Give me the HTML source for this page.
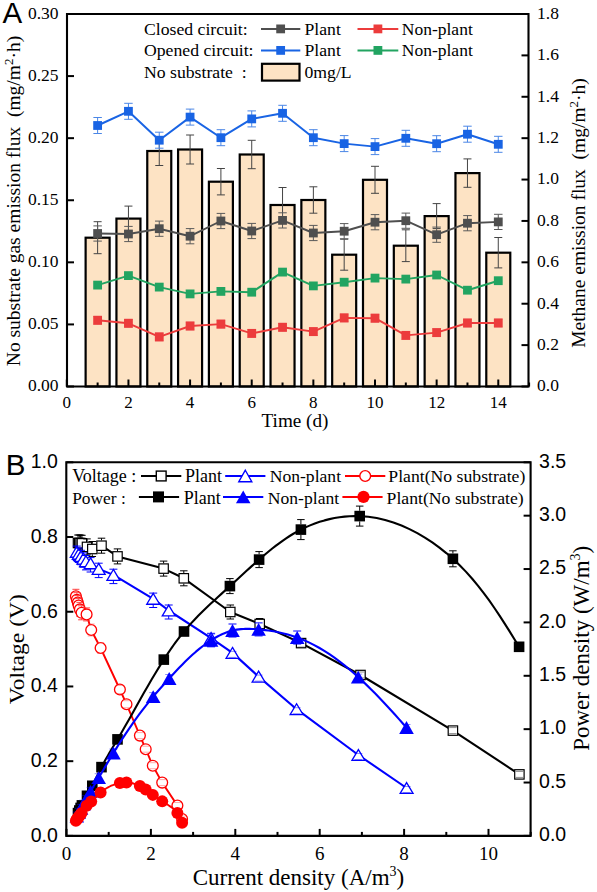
<!DOCTYPE html>
<html><head><meta charset="utf-8"><style>
html,body{margin:0;padding:0;background:#fff;width:597px;height:892px;overflow:hidden}
svg{display:block}
.S{font-family:"Liberation Serif", serif}
.A{font-family:"Liberation Sans", sans-serif}
</style></head><body>
<svg width="597" height="892" viewBox="0 0 597 892">
<rect x="0" y="0" width="597" height="892" fill="#fff"/>
<rect x="85.62" y="237.70" width="24.00" height="148.80" fill="#fde3c4" stroke="#000" stroke-width="2.2"/>
<rect x="116.44" y="218.60" width="24.00" height="167.90" fill="#fde3c4" stroke="#000" stroke-width="2.2"/>
<rect x="147.26" y="151.00" width="24.00" height="235.50" fill="#fde3c4" stroke="#000" stroke-width="2.2"/>
<rect x="178.08" y="149.50" width="24.00" height="237.00" fill="#fde3c4" stroke="#000" stroke-width="2.2"/>
<rect x="208.90" y="181.70" width="24.00" height="204.80" fill="#fde3c4" stroke="#000" stroke-width="2.2"/>
<rect x="239.72" y="154.50" width="24.00" height="232.00" fill="#fde3c4" stroke="#000" stroke-width="2.2"/>
<rect x="270.54" y="205.00" width="24.00" height="181.50" fill="#fde3c4" stroke="#000" stroke-width="2.2"/>
<rect x="301.36" y="200.00" width="24.00" height="186.50" fill="#fde3c4" stroke="#000" stroke-width="2.2"/>
<rect x="332.18" y="254.70" width="24.00" height="131.80" fill="#fde3c4" stroke="#000" stroke-width="2.2"/>
<rect x="363.00" y="179.80" width="24.00" height="206.70" fill="#fde3c4" stroke="#000" stroke-width="2.2"/>
<rect x="393.82" y="245.70" width="24.00" height="140.80" fill="#fde3c4" stroke="#000" stroke-width="2.2"/>
<rect x="424.64" y="216.10" width="24.00" height="170.40" fill="#fde3c4" stroke="#000" stroke-width="2.2"/>
<rect x="455.46" y="173.10" width="24.00" height="213.40" fill="#fde3c4" stroke="#000" stroke-width="2.2"/>
<rect x="486.28" y="252.70" width="24.00" height="133.80" fill="#fde3c4" stroke="#000" stroke-width="2.2"/>
<path d="M97.62,221.70V253.70M93.62,221.70h8.00M93.62,253.70h8.00" stroke="#444" stroke-width="1.0" fill="none"/>
<path d="M128.44,206.10V231.10M124.44,206.10h8.00M124.44,231.10h8.00" stroke="#444" stroke-width="1.0" fill="none"/>
<path d="M159.26,136.50V165.50M155.26,136.50h8.00M155.26,165.50h8.00" stroke="#444" stroke-width="1.0" fill="none"/>
<path d="M190.08,135.00V164.00M186.08,135.00h8.00M186.08,164.00h8.00" stroke="#444" stroke-width="1.0" fill="none"/>
<path d="M220.90,168.50V194.90M216.90,168.50h8.00M216.90,194.90h8.00" stroke="#444" stroke-width="1.0" fill="none"/>
<path d="M251.72,140.30V168.70M247.72,140.30h8.00M247.72,168.70h8.00" stroke="#444" stroke-width="1.0" fill="none"/>
<path d="M282.54,187.50V222.50M278.54,187.50h8.00M278.54,222.50h8.00" stroke="#444" stroke-width="1.0" fill="none"/>
<path d="M313.36,186.80V213.20M309.36,186.80h8.00M309.36,213.20h8.00" stroke="#444" stroke-width="1.0" fill="none"/>
<path d="M344.18,239.20V270.20M340.18,239.20h8.00M340.18,270.20h8.00" stroke="#444" stroke-width="1.0" fill="none"/>
<path d="M375.00,166.30V193.30M371.00,166.30h8.00M371.00,193.30h8.00" stroke="#444" stroke-width="1.0" fill="none"/>
<path d="M405.82,229.80V261.60M401.82,229.80h8.00M401.82,261.60h8.00" stroke="#444" stroke-width="1.0" fill="none"/>
<path d="M436.64,203.60V228.60M432.64,203.60h8.00M432.64,228.60h8.00" stroke="#444" stroke-width="1.0" fill="none"/>
<path d="M467.46,158.90V187.30M463.46,158.90h8.00M463.46,187.30h8.00" stroke="#444" stroke-width="1.0" fill="none"/>
<path d="M498.28,237.50V267.90M494.28,237.50h8.00M494.28,267.90h8.00" stroke="#444" stroke-width="1.0" fill="none"/>
<polyline points="97.62,320.30 128.44,323.30 159.26,336.90 190.08,326.00 220.90,324.10 251.72,333.40 282.54,327.30 313.36,331.60 344.18,317.90 375.00,318.20 405.82,335.40 436.64,332.60 467.46,323.00 498.28,323.00" fill="none" stroke="#ec3c3c" stroke-width="1.95" stroke-linejoin="round"/>
<path d="M97.62,316.30V324.30M93.37,316.30h8.50M93.37,324.30h8.50" stroke="#f07a7a" stroke-width="1.0" fill="none"/>
<path d="M128.44,319.30V327.30M124.19,319.30h8.50M124.19,327.30h8.50" stroke="#f07a7a" stroke-width="1.0" fill="none"/>
<path d="M159.26,332.90V340.90M155.01,332.90h8.50M155.01,340.90h8.50" stroke="#f07a7a" stroke-width="1.0" fill="none"/>
<path d="M190.08,322.00V330.00M185.83,322.00h8.50M185.83,330.00h8.50" stroke="#f07a7a" stroke-width="1.0" fill="none"/>
<path d="M220.90,320.10V328.10M216.65,320.10h8.50M216.65,328.10h8.50" stroke="#f07a7a" stroke-width="1.0" fill="none"/>
<path d="M251.72,329.40V337.40M247.47,329.40h8.50M247.47,337.40h8.50" stroke="#f07a7a" stroke-width="1.0" fill="none"/>
<path d="M282.54,323.30V331.30M278.29,323.30h8.50M278.29,331.30h8.50" stroke="#f07a7a" stroke-width="1.0" fill="none"/>
<path d="M313.36,327.60V335.60M309.11,327.60h8.50M309.11,335.60h8.50" stroke="#f07a7a" stroke-width="1.0" fill="none"/>
<path d="M344.18,313.90V321.90M339.93,313.90h8.50M339.93,321.90h8.50" stroke="#f07a7a" stroke-width="1.0" fill="none"/>
<path d="M375.00,314.20V322.20M370.75,314.20h8.50M370.75,322.20h8.50" stroke="#f07a7a" stroke-width="1.0" fill="none"/>
<path d="M405.82,331.40V339.40M401.57,331.40h8.50M401.57,339.40h8.50" stroke="#f07a7a" stroke-width="1.0" fill="none"/>
<path d="M436.64,328.60V336.60M432.39,328.60h8.50M432.39,336.60h8.50" stroke="#f07a7a" stroke-width="1.0" fill="none"/>
<path d="M467.46,319.00V327.00M463.21,319.00h8.50M463.21,327.00h8.50" stroke="#f07a7a" stroke-width="1.0" fill="none"/>
<path d="M498.28,319.00V327.00M494.03,319.00h8.50M494.03,327.00h8.50" stroke="#f07a7a" stroke-width="1.0" fill="none"/>
<rect x="93.22" y="315.90" width="8.80" height="8.80" fill="#ec3c3c"/>
<rect x="124.04" y="318.90" width="8.80" height="8.80" fill="#ec3c3c"/>
<rect x="154.86" y="332.50" width="8.80" height="8.80" fill="#ec3c3c"/>
<rect x="185.68" y="321.60" width="8.80" height="8.80" fill="#ec3c3c"/>
<rect x="216.50" y="319.70" width="8.80" height="8.80" fill="#ec3c3c"/>
<rect x="247.32" y="329.00" width="8.80" height="8.80" fill="#ec3c3c"/>
<rect x="278.14" y="322.90" width="8.80" height="8.80" fill="#ec3c3c"/>
<rect x="308.96" y="327.20" width="8.80" height="8.80" fill="#ec3c3c"/>
<rect x="339.78" y="313.50" width="8.80" height="8.80" fill="#ec3c3c"/>
<rect x="370.60" y="313.80" width="8.80" height="8.80" fill="#ec3c3c"/>
<rect x="401.42" y="331.00" width="8.80" height="8.80" fill="#ec3c3c"/>
<rect x="432.24" y="328.20" width="8.80" height="8.80" fill="#ec3c3c"/>
<rect x="463.06" y="318.60" width="8.80" height="8.80" fill="#ec3c3c"/>
<rect x="493.88" y="318.60" width="8.80" height="8.80" fill="#ec3c3c"/>
<polyline points="97.62,285.10 128.44,275.60 159.26,287.10 190.08,293.90 220.90,291.40 251.72,292.20 282.54,272.10 313.36,285.90 344.18,282.20 375.00,278.10 405.82,279.10 436.64,275.00 467.46,290.20 498.28,280.70" fill="none" stroke="#22a461" stroke-width="1.95" stroke-linejoin="round"/>
<rect x="93.22" y="280.70" width="8.80" height="8.80" fill="#22a461"/>
<rect x="124.04" y="271.20" width="8.80" height="8.80" fill="#22a461"/>
<rect x="154.86" y="282.70" width="8.80" height="8.80" fill="#22a461"/>
<rect x="185.68" y="289.50" width="8.80" height="8.80" fill="#22a461"/>
<rect x="216.50" y="287.00" width="8.80" height="8.80" fill="#22a461"/>
<rect x="247.32" y="287.80" width="8.80" height="8.80" fill="#22a461"/>
<rect x="278.14" y="267.70" width="8.80" height="8.80" fill="#22a461"/>
<rect x="308.96" y="281.50" width="8.80" height="8.80" fill="#22a461"/>
<rect x="339.78" y="277.80" width="8.80" height="8.80" fill="#22a461"/>
<rect x="370.60" y="273.70" width="8.80" height="8.80" fill="#22a461"/>
<rect x="401.42" y="274.70" width="8.80" height="8.80" fill="#22a461"/>
<rect x="432.24" y="270.60" width="8.80" height="8.80" fill="#22a461"/>
<rect x="463.06" y="285.80" width="8.80" height="8.80" fill="#22a461"/>
<rect x="493.88" y="276.30" width="8.80" height="8.80" fill="#22a461"/>
<polyline points="97.62,233.50 128.44,234.00 159.26,228.70 190.08,236.20 220.90,221.00 251.72,231.00 282.54,220.40 313.36,233.00 344.18,231.20 375.00,222.20 405.82,220.70 436.64,234.70 467.46,223.20 498.28,221.90" fill="none" stroke="#4f4f4f" stroke-width="1.95" stroke-linejoin="round"/>
<path d="M97.62,225.90V241.10M93.37,225.90h8.50M93.37,241.10h8.50" stroke="#5a5a5a" stroke-width="1.0" fill="none"/>
<path d="M128.44,226.40V241.60M124.19,226.40h8.50M124.19,241.60h8.50" stroke="#5a5a5a" stroke-width="1.0" fill="none"/>
<path d="M159.26,221.10V236.30M155.01,221.10h8.50M155.01,236.30h8.50" stroke="#5a5a5a" stroke-width="1.0" fill="none"/>
<path d="M190.08,228.60V243.80M185.83,228.60h8.50M185.83,243.80h8.50" stroke="#5a5a5a" stroke-width="1.0" fill="none"/>
<path d="M220.90,213.40V228.60M216.65,213.40h8.50M216.65,228.60h8.50" stroke="#5a5a5a" stroke-width="1.0" fill="none"/>
<path d="M251.72,223.40V238.60M247.47,223.40h8.50M247.47,238.60h8.50" stroke="#5a5a5a" stroke-width="1.0" fill="none"/>
<path d="M282.54,212.80V228.00M278.29,212.80h8.50M278.29,228.00h8.50" stroke="#5a5a5a" stroke-width="1.0" fill="none"/>
<path d="M313.36,225.40V240.60M309.11,225.40h8.50M309.11,240.60h8.50" stroke="#5a5a5a" stroke-width="1.0" fill="none"/>
<path d="M344.18,223.60V238.80M339.93,223.60h8.50M339.93,238.80h8.50" stroke="#5a5a5a" stroke-width="1.0" fill="none"/>
<path d="M375.00,214.60V229.80M370.75,214.60h8.50M370.75,229.80h8.50" stroke="#5a5a5a" stroke-width="1.0" fill="none"/>
<path d="M405.82,213.10V228.30M401.57,213.10h8.50M401.57,228.30h8.50" stroke="#5a5a5a" stroke-width="1.0" fill="none"/>
<path d="M436.64,227.10V242.30M432.39,227.10h8.50M432.39,242.30h8.50" stroke="#5a5a5a" stroke-width="1.0" fill="none"/>
<path d="M467.46,215.60V230.80M463.21,215.60h8.50M463.21,230.80h8.50" stroke="#5a5a5a" stroke-width="1.0" fill="none"/>
<path d="M498.28,214.30V229.50M494.03,214.30h8.50M494.03,229.50h8.50" stroke="#5a5a5a" stroke-width="1.0" fill="none"/>
<rect x="93.22" y="229.10" width="8.80" height="8.80" fill="#4f4f4f"/>
<rect x="124.04" y="229.60" width="8.80" height="8.80" fill="#4f4f4f"/>
<rect x="154.86" y="224.30" width="8.80" height="8.80" fill="#4f4f4f"/>
<rect x="185.68" y="231.80" width="8.80" height="8.80" fill="#4f4f4f"/>
<rect x="216.50" y="216.60" width="8.80" height="8.80" fill="#4f4f4f"/>
<rect x="247.32" y="226.60" width="8.80" height="8.80" fill="#4f4f4f"/>
<rect x="278.14" y="216.00" width="8.80" height="8.80" fill="#4f4f4f"/>
<rect x="308.96" y="228.60" width="8.80" height="8.80" fill="#4f4f4f"/>
<rect x="339.78" y="226.80" width="8.80" height="8.80" fill="#4f4f4f"/>
<rect x="370.60" y="217.80" width="8.80" height="8.80" fill="#4f4f4f"/>
<rect x="401.42" y="216.30" width="8.80" height="8.80" fill="#4f4f4f"/>
<rect x="432.24" y="230.30" width="8.80" height="8.80" fill="#4f4f4f"/>
<rect x="463.06" y="218.80" width="8.80" height="8.80" fill="#4f4f4f"/>
<rect x="493.88" y="217.50" width="8.80" height="8.80" fill="#4f4f4f"/>
<polyline points="97.62,125.50 128.44,111.30 159.26,140.20 190.08,117.10 220.90,137.70 251.72,118.90 282.54,113.30 313.36,137.70 344.18,143.60 375.00,146.60 405.82,138.30 436.64,143.70 467.46,134.20 498.28,144.30" fill="none" stroke="#1964e4" stroke-width="1.95" stroke-linejoin="round"/>
<path d="M97.62,117.50V133.50M93.37,117.50h8.50M93.37,133.50h8.50" stroke="#4a86e6" stroke-width="1.0" fill="none"/>
<path d="M128.44,103.30V119.30M124.19,103.30h8.50M124.19,119.30h8.50" stroke="#4a86e6" stroke-width="1.0" fill="none"/>
<path d="M159.26,132.20V148.20M155.01,132.20h8.50M155.01,148.20h8.50" stroke="#4a86e6" stroke-width="1.0" fill="none"/>
<path d="M190.08,109.10V125.10M185.83,109.10h8.50M185.83,125.10h8.50" stroke="#4a86e6" stroke-width="1.0" fill="none"/>
<path d="M220.90,129.70V145.70M216.65,129.70h8.50M216.65,145.70h8.50" stroke="#4a86e6" stroke-width="1.0" fill="none"/>
<path d="M251.72,110.90V126.90M247.47,110.90h8.50M247.47,126.90h8.50" stroke="#4a86e6" stroke-width="1.0" fill="none"/>
<path d="M282.54,105.30V121.30M278.29,105.30h8.50M278.29,121.30h8.50" stroke="#4a86e6" stroke-width="1.0" fill="none"/>
<path d="M313.36,129.70V145.70M309.11,129.70h8.50M309.11,145.70h8.50" stroke="#4a86e6" stroke-width="1.0" fill="none"/>
<path d="M344.18,135.60V151.60M339.93,135.60h8.50M339.93,151.60h8.50" stroke="#4a86e6" stroke-width="1.0" fill="none"/>
<path d="M375.00,138.60V154.60M370.75,138.60h8.50M370.75,154.60h8.50" stroke="#4a86e6" stroke-width="1.0" fill="none"/>
<path d="M405.82,130.30V146.30M401.57,130.30h8.50M401.57,146.30h8.50" stroke="#4a86e6" stroke-width="1.0" fill="none"/>
<path d="M436.64,135.70V151.70M432.39,135.70h8.50M432.39,151.70h8.50" stroke="#4a86e6" stroke-width="1.0" fill="none"/>
<path d="M467.46,126.20V142.20M463.21,126.20h8.50M463.21,142.20h8.50" stroke="#4a86e6" stroke-width="1.0" fill="none"/>
<path d="M498.28,136.30V152.30M494.03,136.30h8.50M494.03,152.30h8.50" stroke="#4a86e6" stroke-width="1.0" fill="none"/>
<rect x="93.22" y="121.10" width="8.80" height="8.80" fill="#1964e4"/>
<rect x="124.04" y="106.90" width="8.80" height="8.80" fill="#1964e4"/>
<rect x="154.86" y="135.80" width="8.80" height="8.80" fill="#1964e4"/>
<rect x="185.68" y="112.70" width="8.80" height="8.80" fill="#1964e4"/>
<rect x="216.50" y="133.30" width="8.80" height="8.80" fill="#1964e4"/>
<rect x="247.32" y="114.50" width="8.80" height="8.80" fill="#1964e4"/>
<rect x="278.14" y="108.90" width="8.80" height="8.80" fill="#1964e4"/>
<rect x="308.96" y="133.30" width="8.80" height="8.80" fill="#1964e4"/>
<rect x="339.78" y="139.20" width="8.80" height="8.80" fill="#1964e4"/>
<rect x="370.60" y="142.20" width="8.80" height="8.80" fill="#1964e4"/>
<rect x="401.42" y="133.90" width="8.80" height="8.80" fill="#1964e4"/>
<rect x="432.24" y="139.30" width="8.80" height="8.80" fill="#1964e4"/>
<rect x="463.06" y="129.80" width="8.80" height="8.80" fill="#1964e4"/>
<rect x="493.88" y="139.90" width="8.80" height="8.80" fill="#1964e4"/>
<path d="M67.0,14.0 H528.5 V386.5 H67.0 Z" fill="none" stroke="#000" stroke-width="2.1"/>
<line x1="67.00" y1="386.50" x2="74.00" y2="386.50" stroke="#000" stroke-width="2"/>
<line x1="67.00" y1="324.42" x2="74.00" y2="324.42" stroke="#000" stroke-width="2"/>
<line x1="67.00" y1="262.33" x2="74.00" y2="262.33" stroke="#000" stroke-width="2"/>
<line x1="67.00" y1="200.25" x2="74.00" y2="200.25" stroke="#000" stroke-width="2"/>
<line x1="67.00" y1="138.17" x2="74.00" y2="138.17" stroke="#000" stroke-width="2"/>
<line x1="67.00" y1="76.08" x2="74.00" y2="76.08" stroke="#000" stroke-width="2"/>
<line x1="67.00" y1="14.00" x2="74.00" y2="14.00" stroke="#000" stroke-width="2"/>
<line x1="528.50" y1="386.50" x2="521.50" y2="386.50" stroke="#000" stroke-width="2"/>
<line x1="528.50" y1="345.11" x2="521.50" y2="345.11" stroke="#000" stroke-width="2"/>
<line x1="528.50" y1="303.72" x2="521.50" y2="303.72" stroke="#000" stroke-width="2"/>
<line x1="528.50" y1="262.33" x2="521.50" y2="262.33" stroke="#000" stroke-width="2"/>
<line x1="528.50" y1="220.94" x2="521.50" y2="220.94" stroke="#000" stroke-width="2"/>
<line x1="528.50" y1="179.56" x2="521.50" y2="179.56" stroke="#000" stroke-width="2"/>
<line x1="528.50" y1="138.17" x2="521.50" y2="138.17" stroke="#000" stroke-width="2"/>
<line x1="528.50" y1="96.78" x2="521.50" y2="96.78" stroke="#000" stroke-width="2"/>
<line x1="528.50" y1="55.39" x2="521.50" y2="55.39" stroke="#000" stroke-width="2"/>
<line x1="528.50" y1="14.00" x2="521.50" y2="14.00" stroke="#000" stroke-width="2"/>
<line x1="66.80" y1="386.50" x2="66.80" y2="379.50" stroke="#000" stroke-width="2"/>
<line x1="97.62" y1="386.50" x2="97.62" y2="382.50" stroke="#000" stroke-width="2"/>
<line x1="128.44" y1="386.50" x2="128.44" y2="379.50" stroke="#000" stroke-width="2"/>
<line x1="159.26" y1="386.50" x2="159.26" y2="382.50" stroke="#000" stroke-width="2"/>
<line x1="190.08" y1="386.50" x2="190.08" y2="379.50" stroke="#000" stroke-width="2"/>
<line x1="220.90" y1="386.50" x2="220.90" y2="382.50" stroke="#000" stroke-width="2"/>
<line x1="251.72" y1="386.50" x2="251.72" y2="379.50" stroke="#000" stroke-width="2"/>
<line x1="282.54" y1="386.50" x2="282.54" y2="382.50" stroke="#000" stroke-width="2"/>
<line x1="313.36" y1="386.50" x2="313.36" y2="379.50" stroke="#000" stroke-width="2"/>
<line x1="344.18" y1="386.50" x2="344.18" y2="382.50" stroke="#000" stroke-width="2"/>
<line x1="375.00" y1="386.50" x2="375.00" y2="379.50" stroke="#000" stroke-width="2"/>
<line x1="405.82" y1="386.50" x2="405.82" y2="382.50" stroke="#000" stroke-width="2"/>
<line x1="436.64" y1="386.50" x2="436.64" y2="379.50" stroke="#000" stroke-width="2"/>
<line x1="467.46" y1="386.50" x2="467.46" y2="382.50" stroke="#000" stroke-width="2"/>
<line x1="498.28" y1="386.50" x2="498.28" y2="379.50" stroke="#000" stroke-width="2"/>
<line x1="529.10" y1="386.50" x2="529.10" y2="382.50" stroke="#000" stroke-width="2"/>
<text class="S" x="58.50" y="391.30" font-size="17.5" text-anchor="end" fill="#000">0.00</text>
<text class="S" x="58.50" y="329.22" font-size="17.5" text-anchor="end" fill="#000">0.05</text>
<text class="S" x="58.50" y="267.13" font-size="17.5" text-anchor="end" fill="#000">0.10</text>
<text class="S" x="58.50" y="205.05" font-size="17.5" text-anchor="end" fill="#000">0.15</text>
<text class="S" x="58.50" y="142.97" font-size="17.5" text-anchor="end" fill="#000">0.20</text>
<text class="S" x="58.50" y="80.88" font-size="17.5" text-anchor="end" fill="#000">0.25</text>
<text class="S" x="58.50" y="18.80" font-size="17.5" text-anchor="end" fill="#000">0.30</text>
<text class="S" x="537.00" y="391.30" font-size="17.5" text-anchor="start" fill="#000">0.0</text>
<text class="S" x="537.00" y="349.91" font-size="17.5" text-anchor="start" fill="#000">0.2</text>
<text class="S" x="537.00" y="308.52" font-size="17.5" text-anchor="start" fill="#000">0.4</text>
<text class="S" x="537.00" y="267.13" font-size="17.5" text-anchor="start" fill="#000">0.6</text>
<text class="S" x="537.00" y="225.74" font-size="17.5" text-anchor="start" fill="#000">0.8</text>
<text class="S" x="537.00" y="184.36" font-size="17.5" text-anchor="start" fill="#000">1.0</text>
<text class="S" x="537.00" y="142.97" font-size="17.5" text-anchor="start" fill="#000">1.2</text>
<text class="S" x="537.00" y="101.58" font-size="17.5" text-anchor="start" fill="#000">1.4</text>
<text class="S" x="537.00" y="60.19" font-size="17.5" text-anchor="start" fill="#000">1.6</text>
<text class="S" x="537.00" y="18.80" font-size="17.5" text-anchor="start" fill="#000">1.8</text>
<text class="S" x="66.80" y="407.50" font-size="17" text-anchor="middle" fill="#000">0</text>
<text class="S" x="128.44" y="407.50" font-size="17" text-anchor="middle" fill="#000">2</text>
<text class="S" x="190.08" y="407.50" font-size="17" text-anchor="middle" fill="#000">4</text>
<text class="S" x="251.72" y="407.50" font-size="17" text-anchor="middle" fill="#000">6</text>
<text class="S" x="313.36" y="407.50" font-size="17" text-anchor="middle" fill="#000">8</text>
<text class="S" x="375.00" y="407.50" font-size="17" text-anchor="middle" fill="#000">10</text>
<text class="S" x="436.64" y="407.50" font-size="17" text-anchor="middle" fill="#000">12</text>
<text class="S" x="498.28" y="407.50" font-size="17" text-anchor="middle" fill="#000">14</text>
<text class="S" x="295.00" y="426.50" font-size="19.2" text-anchor="middle" fill="#000">Time (d)</text>
<text class="S" x="20.20" y="201.00" font-size="19.5" text-anchor="middle" fill="#000" transform="rotate(-90 20.20 201.00)">No substrate gas emission flux&#160;&#160;(mg/m<tspan dy="-7" font-size="13">2</tspan><tspan dy="7">&#183;h)</tspan></text>
<text class="S" x="584.60" y="213.00" font-size="19.5" text-anchor="middle" fill="#000" transform="rotate(-90 584.60 213.00)">Methane emission flux&#160;&#160;(mg/m<tspan dy="-7" font-size="13">2</tspan><tspan dy="7">&#183;h)</tspan></text>
<text class="A" x="2.50" y="23.30" font-size="29.5" text-anchor="start" fill="#000">A</text>
<text class="S" x="144.00" y="34.60" font-size="17.7" text-anchor="start" fill="#000">Closed circuit:</text>
<text class="S" x="144.00" y="56.40" font-size="17.7" text-anchor="start" fill="#000">Opened circuit:</text>
<text class="S" x="144.00" y="77.70" font-size="17.7" text-anchor="start" fill="#000">No substrate&#160;&#160;:</text>
<line x1="261.00" y1="28.90" x2="300.30" y2="28.90" stroke="#4f4f4f" stroke-width="2"/>
<rect x="276.25" y="24.50" width="8.80" height="8.80" fill="#4f4f4f"/>
<line x1="261.00" y1="50.40" x2="300.30" y2="50.40" stroke="#1964e4" stroke-width="2"/>
<rect x="276.25" y="46.00" width="8.80" height="8.80" fill="#1964e4"/>
<line x1="357.50" y1="28.90" x2="398.30" y2="28.90" stroke="#ec3c3c" stroke-width="2"/>
<rect x="373.50" y="24.50" width="8.80" height="8.80" fill="#ec3c3c"/>
<line x1="357.50" y1="50.40" x2="398.30" y2="50.40" stroke="#22a461" stroke-width="2"/>
<rect x="373.50" y="46.00" width="8.80" height="8.80" fill="#22a461"/>
<rect x="262.00" y="63.80" width="37.50" height="16.80" fill="#fde3c4" stroke="#000" stroke-width="2.2"/>
<text class="S" x="304.50" y="34.60" font-size="17.7" text-anchor="start" fill="#000">Plant</text>
<text class="S" x="304.50" y="56.40" font-size="17.7" text-anchor="start" fill="#000">Plant</text>
<text class="S" x="304.50" y="77.70" font-size="17.7" text-anchor="start" fill="#000">0mg/L</text>
<text class="S" x="401.80" y="34.60" font-size="17.5" text-anchor="start" fill="#000">Non-plant</text>
<text class="S" x="401.80" y="56.40" font-size="17.5" text-anchor="start" fill="#000">Non-plant</text>
<polyline points="78.00,543.00 79.30,543.00 80.60,543.10 81.90,543.30 87.00,546.90 92.30,549.00 101.50,545.70 117.50,556.40 163.60,568.60 183.80,578.30 230.30,612.00 259.70,624.00 301.10,643.10 360.50,675.00 452.90,730.60 519.40,774.40" fill="none" stroke="#000" stroke-width="2.1" stroke-linejoin="round"/>
<rect x="73.30" y="538.30" width="9.40" height="9.40" fill="#fff" stroke="#000" stroke-width="1.2"/>
<path d="M78.00,535.00V537.70M74.25,535.00h7.50M78.00,548.30V551.00M74.25,551.00h7.50" stroke="#000" stroke-width="1.0" fill="none"/>
<rect x="74.60" y="538.30" width="9.40" height="9.40" fill="#fff" stroke="#000" stroke-width="1.2"/>
<path d="M79.30,535.00V537.70M75.55,535.00h7.50M79.30,548.30V551.00M75.55,551.00h7.50" stroke="#000" stroke-width="1.0" fill="none"/>
<rect x="75.90" y="538.40" width="9.40" height="9.40" fill="#fff" stroke="#000" stroke-width="1.2"/>
<path d="M80.60,535.10V537.80M76.85,535.10h7.50M80.60,548.40V551.10M76.85,551.10h7.50" stroke="#000" stroke-width="1.0" fill="none"/>
<rect x="77.20" y="538.60" width="9.40" height="9.40" fill="#fff" stroke="#000" stroke-width="1.2"/>
<path d="M81.90,535.30V538.00M78.15,535.30h7.50M81.90,548.60V551.30M78.15,551.30h7.50" stroke="#000" stroke-width="1.0" fill="none"/>
<rect x="82.30" y="542.20" width="9.40" height="9.40" fill="#fff" stroke="#000" stroke-width="1.2"/>
<path d="M87.00,538.90V541.60M83.25,538.90h7.50M87.00,552.20V554.90M83.25,554.90h7.50" stroke="#000" stroke-width="1.0" fill="none"/>
<rect x="87.60" y="544.30" width="9.40" height="9.40" fill="#fff" stroke="#000" stroke-width="1.2"/>
<path d="M92.30,541.50V543.70M88.55,541.50h7.50M92.30,554.30V556.50M88.55,556.50h7.50" stroke="#000" stroke-width="1.0" fill="none"/>
<rect x="96.80" y="541.00" width="9.40" height="9.40" fill="#fff" stroke="#000" stroke-width="1.2"/>
<path d="M101.50,538.20V540.40M97.75,538.20h7.50M101.50,551.00V553.20M97.75,553.20h7.50" stroke="#000" stroke-width="1.0" fill="none"/>
<rect x="112.80" y="551.70" width="9.40" height="9.40" fill="#fff" stroke="#000" stroke-width="1.2"/>
<path d="M117.50,548.90V551.10M113.75,548.90h7.50M117.50,561.70V563.90M113.75,563.90h7.50" stroke="#000" stroke-width="1.0" fill="none"/>
<rect x="158.90" y="563.90" width="9.40" height="9.40" fill="#fff" stroke="#000" stroke-width="1.2"/>
<path d="M163.60,561.10V563.30M159.85,561.10h7.50M163.60,573.90V576.10M159.85,576.10h7.50" stroke="#000" stroke-width="1.0" fill="none"/>
<rect x="179.10" y="573.60" width="9.40" height="9.40" fill="#fff" stroke="#000" stroke-width="1.2"/>
<path d="M183.80,570.80V573.00M180.05,570.80h7.50M183.80,583.60V585.80M180.05,585.80h7.50" stroke="#000" stroke-width="1.0" fill="none"/>
<rect x="225.60" y="607.30" width="9.40" height="9.40" fill="#fff" stroke="#000" stroke-width="1.2"/>
<path d="M230.30,605.00V606.70M226.55,605.00h7.50M230.30,617.30V619.00M226.55,619.00h7.50" stroke="#000" stroke-width="1.0" fill="none"/>
<rect x="255.00" y="619.30" width="9.40" height="9.40" fill="#fff" stroke="#000" stroke-width="1.2"/>
<path d="M259.70,618.50V618.70M255.95,618.50h7.50M259.70,629.30V629.50M255.95,629.50h7.50" stroke="#000" stroke-width="1.0" fill="none"/>
<rect x="296.40" y="638.40" width="9.40" height="9.40" fill="#fff" stroke="#000" stroke-width="1.2"/>
<path d="M297.35,639.10h7.50M297.35,647.10h7.50" stroke="#000" stroke-width="1.0" fill="none" opacity="0.45"/>
<rect x="355.80" y="670.30" width="9.40" height="9.40" fill="#fff" stroke="#000" stroke-width="1.2"/>
<path d="M356.75,672.00h7.50M356.75,678.00h7.50" stroke="#000" stroke-width="1.0" fill="none" opacity="0.45"/>
<rect x="448.20" y="725.90" width="9.40" height="9.40" fill="#fff" stroke="#000" stroke-width="1.2"/>
<path d="M449.15,727.60h7.50M449.15,733.60h7.50" stroke="#000" stroke-width="1.0" fill="none" opacity="0.45"/>
<rect x="514.70" y="769.70" width="9.40" height="9.40" fill="#fff" stroke="#000" stroke-width="1.2"/>
<path d="M515.65,771.40h7.50M515.65,777.40h7.50" stroke="#000" stroke-width="1.0" fill="none" opacity="0.45"/>
<polyline points="76.80,551.80 78.80,553.80 81.00,556.00 83.40,558.60 86.00,561.20 90.60,563.30 98.70,568.90 113.40,574.90 153.20,598.80 168.70,610.50 211.10,638.10 232.50,652.90 258.60,676.60 296.60,709.20 358.40,755.00 406.60,788.00" fill="none" stroke="#0000ff" stroke-width="2.1" stroke-linejoin="round"/>
<path d="M76.80,546.35 L83.25,557.25 L70.35,557.25 Z" fill="#fff" stroke="#0000ff" stroke-width="1.3" stroke-linejoin="miter"/>
<path d="M76.80,546.10V546.35M72.80,546.10h8.00M76.80,557.25V560.50M72.80,560.50h8.00" stroke="#0000ff" stroke-width="1.0" fill="none"/>
<path d="M78.80,548.35 L85.25,559.25 L72.35,559.25 Z" fill="#fff" stroke="#0000ff" stroke-width="1.3" stroke-linejoin="miter"/>
<path d="M78.80,548.10V548.35M74.80,548.10h8.00M78.80,559.25V562.50M74.80,562.50h8.00" stroke="#0000ff" stroke-width="1.0" fill="none"/>
<path d="M81.00,550.55 L87.45,561.45 L74.55,561.45 Z" fill="#fff" stroke="#0000ff" stroke-width="1.3" stroke-linejoin="miter"/>
<path d="M81.00,550.30V550.55M77.00,550.30h8.00M81.00,561.45V564.70M77.00,564.70h8.00" stroke="#0000ff" stroke-width="1.0" fill="none"/>
<path d="M83.40,553.15 L89.85,564.05 L76.95,564.05 Z" fill="#fff" stroke="#0000ff" stroke-width="1.3" stroke-linejoin="miter"/>
<path d="M83.40,552.90V553.15M79.40,552.90h8.00M83.40,564.05V567.30M79.40,567.30h8.00" stroke="#0000ff" stroke-width="1.0" fill="none"/>
<path d="M86.00,555.75 L92.45,566.65 L79.55,566.65 Z" fill="#fff" stroke="#0000ff" stroke-width="1.3" stroke-linejoin="miter"/>
<path d="M86.00,555.50V555.75M82.00,555.50h8.00M86.00,566.65V569.90M82.00,569.90h8.00" stroke="#0000ff" stroke-width="1.0" fill="none"/>
<path d="M90.60,557.85 L97.05,568.75 L84.15,568.75 Z" fill="#fff" stroke="#0000ff" stroke-width="1.3" stroke-linejoin="miter"/>
<path d="M90.60,557.60V557.85M86.60,557.60h8.00M90.60,568.75V572.00M86.60,572.00h8.00" stroke="#0000ff" stroke-width="1.0" fill="none"/>
<path d="M98.70,563.45 L105.15,574.35 L92.25,574.35 Z" fill="#fff" stroke="#0000ff" stroke-width="1.3" stroke-linejoin="miter"/>
<path d="M98.70,563.20V563.45M94.70,563.20h8.00M98.70,574.35V577.60M94.70,577.60h8.00" stroke="#0000ff" stroke-width="1.0" fill="none"/>
<path d="M113.40,569.45 L119.85,580.35 L106.95,580.35 Z" fill="#fff" stroke="#0000ff" stroke-width="1.3" stroke-linejoin="miter"/>
<path d="M113.40,569.20V569.45M109.40,569.20h8.00M113.40,580.35V583.60M109.40,583.60h8.00" stroke="#0000ff" stroke-width="1.0" fill="none"/>
<path d="M153.20,593.35 L159.65,604.25 L146.75,604.25 Z" fill="#fff" stroke="#0000ff" stroke-width="1.3" stroke-linejoin="miter"/>
<path d="M153.20,593.10V593.35M149.20,593.10h8.00M153.20,604.25V607.50M149.20,607.50h8.00" stroke="#0000ff" stroke-width="1.0" fill="none"/>
<path d="M168.70,605.05 L175.15,615.95 L162.25,615.95 Z" fill="#fff" stroke="#0000ff" stroke-width="1.3" stroke-linejoin="miter"/>
<path d="M168.70,605.00V605.05M164.70,605.00h8.00M168.70,615.95V619.00M164.70,619.00h8.00" stroke="#0000ff" stroke-width="1.0" fill="none"/>
<path d="M211.10,632.65 L217.55,643.55 L204.65,643.55 Z" fill="#fff" stroke="#0000ff" stroke-width="1.3" stroke-linejoin="miter"/>
<path d="M211.10,643.55V646.10M207.10,646.10h8.00" stroke="#0000ff" stroke-width="1.0" fill="none"/>
<path d="M207.10,633.10h8.00" stroke="#0000ff" stroke-width="1.0" fill="none" opacity="0.45"/>
<path d="M232.50,647.45 L238.95,658.35 L226.05,658.35 Z" fill="#fff" stroke="#0000ff" stroke-width="1.3" stroke-linejoin="miter"/>
<path d="M228.50,651.40h8.00M228.50,657.40h8.00" stroke="#0000ff" stroke-width="1.0" fill="none" opacity="0.45"/>
<path d="M258.60,671.15 L265.05,682.05 L252.15,682.05 Z" fill="#fff" stroke="#0000ff" stroke-width="1.3" stroke-linejoin="miter"/>
<path d="M254.60,675.10h8.00M254.60,681.10h8.00" stroke="#0000ff" stroke-width="1.0" fill="none" opacity="0.45"/>
<path d="M296.60,703.75 L303.05,714.65 L290.15,714.65 Z" fill="#fff" stroke="#0000ff" stroke-width="1.3" stroke-linejoin="miter"/>
<path d="M292.60,707.70h8.00M292.60,713.70h8.00" stroke="#0000ff" stroke-width="1.0" fill="none" opacity="0.45"/>
<path d="M358.40,749.55 L364.85,760.45 L351.95,760.45 Z" fill="#fff" stroke="#0000ff" stroke-width="1.3" stroke-linejoin="miter"/>
<path d="M354.40,753.50h8.00M354.40,759.50h8.00" stroke="#0000ff" stroke-width="1.0" fill="none" opacity="0.45"/>
<path d="M406.60,782.55 L413.05,793.45 L400.15,793.45 Z" fill="#fff" stroke="#0000ff" stroke-width="1.3" stroke-linejoin="miter"/>
<path d="M402.60,786.50h8.00M402.60,792.50h8.00" stroke="#0000ff" stroke-width="1.0" fill="none" opacity="0.45"/>
<polyline points="75.90,596.30 76.90,599.70 77.80,602.60 78.60,605.60 79.90,609.40 81.60,612.80 86.60,614.40 91.20,630.00 100.60,648.00 119.90,689.50 126.50,704.20 139.90,735.60 145.70,749.20 152.80,765.70 162.20,782.60 177.40,805.50 182.10,819.10" fill="none" stroke="#ff0000" stroke-width="1.9" stroke-linejoin="round"/>
<circle cx="75.90" cy="596.30" r="5.40" fill="#fff" stroke="#ff0000" stroke-width="1.3"/>
<path d="M75.90,589.30V590.30M72.40,589.30h7.00M75.90,602.30V603.30M72.40,603.30h7.00" stroke="#ff3030" stroke-width="0.9" fill="none"/>
<circle cx="76.90" cy="599.70" r="5.40" fill="#fff" stroke="#ff0000" stroke-width="1.3"/>
<path d="M76.90,592.70V593.70M73.40,592.70h7.00M76.90,605.70V606.70M73.40,606.70h7.00" stroke="#ff3030" stroke-width="0.9" fill="none"/>
<circle cx="77.80" cy="602.60" r="5.40" fill="#fff" stroke="#ff0000" stroke-width="1.3"/>
<path d="M77.80,595.60V596.60M74.30,595.60h7.00M77.80,608.60V609.60M74.30,609.60h7.00" stroke="#ff3030" stroke-width="0.9" fill="none"/>
<circle cx="78.60" cy="605.60" r="5.40" fill="#fff" stroke="#ff0000" stroke-width="1.3"/>
<path d="M78.60,598.60V599.60M75.10,598.60h7.00M78.60,611.60V612.60M75.10,612.60h7.00" stroke="#ff3030" stroke-width="0.9" fill="none"/>
<circle cx="79.90" cy="609.40" r="5.40" fill="#fff" stroke="#ff0000" stroke-width="1.3"/>
<path d="M79.90,602.40V603.40M76.40,602.40h7.00M79.90,615.40V616.40M76.40,616.40h7.00" stroke="#ff3030" stroke-width="0.9" fill="none"/>
<circle cx="81.60" cy="612.80" r="5.40" fill="#fff" stroke="#ff0000" stroke-width="1.3"/>
<path d="M81.60,605.80V606.80M78.10,605.80h7.00M81.60,618.80V619.80M78.10,619.80h7.00" stroke="#ff3030" stroke-width="0.9" fill="none"/>
<circle cx="86.60" cy="614.40" r="5.40" fill="#fff" stroke="#ff0000" stroke-width="1.3"/>
<path d="M86.60,607.90V608.40M83.10,607.90h7.00M86.60,620.40V620.90M83.10,620.90h7.00" stroke="#ff3030" stroke-width="0.9" fill="none"/>
<circle cx="91.20" cy="630.00" r="5.40" fill="#fff" stroke="#ff0000" stroke-width="1.3"/>
<path d="M87.70,624.00h7.00M87.70,636.00h7.00" stroke="#ff3030" stroke-width="0.9" fill="none" opacity="0.45"/>
<circle cx="100.60" cy="648.00" r="5.40" fill="#fff" stroke="#ff0000" stroke-width="1.3"/>
<path d="M97.10,642.50h7.00M97.10,653.50h7.00" stroke="#ff3030" stroke-width="0.9" fill="none" opacity="0.45"/>
<circle cx="119.90" cy="689.50" r="5.40" fill="#fff" stroke="#ff0000" stroke-width="1.3"/>
<path d="M116.40,685.50h7.00M116.40,693.50h7.00" stroke="#ff3030" stroke-width="0.9" fill="none" opacity="0.45"/>
<circle cx="126.50" cy="704.20" r="5.40" fill="#fff" stroke="#ff0000" stroke-width="1.3"/>
<path d="M123.00,700.70h7.00M123.00,707.70h7.00" stroke="#ff3030" stroke-width="0.9" fill="none" opacity="0.45"/>
<circle cx="139.90" cy="735.60" r="5.40" fill="#fff" stroke="#ff0000" stroke-width="1.3"/>
<path d="M136.40,732.60h7.00M136.40,738.60h7.00" stroke="#ff3030" stroke-width="0.9" fill="none" opacity="0.45"/>
<circle cx="145.70" cy="749.20" r="5.40" fill="#fff" stroke="#ff0000" stroke-width="1.3"/>
<path d="M142.20,746.20h7.00M142.20,752.20h7.00" stroke="#ff3030" stroke-width="0.9" fill="none" opacity="0.45"/>
<circle cx="152.80" cy="765.70" r="5.40" fill="#fff" stroke="#ff0000" stroke-width="1.3"/>
<path d="M149.30,762.70h7.00M149.30,768.70h7.00" stroke="#ff3030" stroke-width="0.9" fill="none" opacity="0.45"/>
<circle cx="162.20" cy="782.60" r="5.40" fill="#fff" stroke="#ff0000" stroke-width="1.3"/>
<path d="M158.70,779.60h7.00M158.70,785.60h7.00" stroke="#ff3030" stroke-width="0.9" fill="none" opacity="0.45"/>
<circle cx="177.40" cy="805.50" r="5.40" fill="#fff" stroke="#ff0000" stroke-width="1.3"/>
<path d="M173.90,802.50h7.00M173.90,808.50h7.00" stroke="#ff3030" stroke-width="0.9" fill="none" opacity="0.45"/>
<circle cx="182.10" cy="819.10" r="5.40" fill="#fff" stroke="#ff0000" stroke-width="1.3"/>
<path d="M178.60,816.10h7.00M178.60,822.10h7.00" stroke="#ff3030" stroke-width="0.9" fill="none" opacity="0.45"/>
<path d="M78.00,813.09 L78.11,812.88 L78.22,812.66 L78.32,812.45 L78.43,812.24 L78.54,812.02 L78.65,811.81 L78.76,811.59 L78.87,811.38 L78.97,811.16 L79.08,810.95 L79.19,810.73 L79.30,810.52 L79.41,810.30 L79.52,810.09 L79.62,809.87 L79.73,809.66 L79.84,809.45 L79.95,809.23 L80.06,809.02 L80.17,808.80 L80.27,808.59 L80.38,808.38 L80.49,808.16 L80.60,807.95 L80.71,807.73 L80.82,807.52 L80.92,807.31 L81.03,807.10 L81.14,806.88 L81.25,806.67 L81.36,806.46 L81.46,806.24 L81.57,806.03 L81.68,805.82 L81.79,805.60 L81.90,805.39 L82.32,804.59 L82.73,803.78 L83.15,802.98 L83.57,802.18 L84.00,801.38 L84.42,800.58 L84.85,799.78 L85.28,798.98 L85.71,798.18 L86.14,797.38 L86.57,796.59 L87.00,795.79 L87.45,794.96 L87.90,794.13 L88.34,793.30 L88.79,792.47 L89.24,791.63 L89.68,790.80 L90.12,789.97 L90.56,789.13 L91.00,788.30 L91.44,787.46 L91.87,786.62 L92.30,785.78 L93.08,784.24 L93.85,782.69 L94.62,781.13 L95.38,779.57 L96.13,778.01 L96.89,776.45 L97.64,774.89 L98.40,773.33 L99.16,771.77 L99.93,770.22 L100.71,768.67 L101.50,767.13 L102.74,764.77 L104.01,762.43 L105.30,760.09 L106.62,757.77 L107.95,755.46 L109.30,753.15 L110.66,750.86 L112.02,748.56 L113.39,746.27 L114.76,743.98 L116.13,741.69 L117.50,739.39 L121.39,732.75 L125.22,726.09 L129.01,719.40 L132.78,712.70 L136.54,705.99 L140.30,699.28 L144.08,692.59 L147.89,685.92 L151.76,679.28 L155.69,672.67 L159.70,666.11 L163.80,659.60 L165.37,657.17 L166.95,654.76 L168.55,652.36 L170.18,649.97 L171.82,647.59 L173.48,645.23 L175.17,642.89 L176.88,640.57 L178.62,638.27 L180.38,635.99 L182.18,633.73 L184.00,631.50 L187.48,627.41 L191.06,623.40 L194.72,619.47 L198.46,615.60 L202.27,611.80 L206.13,608.04 L210.03,604.33 L213.98,600.65 L217.95,597.00 L221.93,593.36 L225.92,589.73 L229.90,586.10 L232.33,583.88 L234.75,581.66 L237.17,579.44 L239.59,577.21 L242.01,574.99 L244.43,572.77 L246.85,570.56 L249.28,568.35 L251.72,566.15 L254.17,563.96 L256.63,561.77 L259.10,559.60 L262.35,556.78 L265.62,553.99 L268.92,551.24 L272.27,548.53 L275.65,545.88 L279.09,543.29 L282.57,540.78 L286.11,538.35 L289.70,536.00 L293.36,533.76 L297.10,531.62 L300.90,529.60 L305.46,527.39 L310.11,525.36 L314.85,523.51 L319.67,521.85 L324.55,520.39 L329.49,519.12 L334.47,518.07 L339.49,517.23 L344.53,516.60 L349.59,516.20 L354.65,516.03 L359.70,516.10 L368.25,516.76 L376.72,518.08 L385.11,520.01 L393.38,522.53 L401.51,525.58 L409.49,529.14 L417.29,533.16 L424.90,537.60 L432.28,542.42 L439.42,547.59 L446.30,553.06 L452.90,558.80 L459.65,565.22 L466.09,571.87 L472.22,578.75 L478.10,585.82 L483.74,593.06 L489.17,600.46 L494.43,607.98 L499.54,615.61 L504.53,623.33 L509.44,631.12 L514.28,638.95 L519.10,646.80" fill="none" stroke="#000" stroke-width="2.1" stroke-linejoin="round"/>
<rect x="72.70" y="807.79" width="10.60" height="10.60" fill="#000"/>
<path d="M74.25,809.09h7.50M74.25,817.09h7.50" stroke="#000" stroke-width="1.0" fill="none" opacity="0.45"/>
<rect x="74.00" y="805.22" width="10.60" height="10.60" fill="#000"/>
<path d="M75.55,806.52h7.50M75.55,814.52h7.50" stroke="#000" stroke-width="1.0" fill="none" opacity="0.45"/>
<rect x="75.30" y="802.65" width="10.60" height="10.60" fill="#000"/>
<path d="M76.85,803.95h7.50M76.85,811.95h7.50" stroke="#000" stroke-width="1.0" fill="none" opacity="0.45"/>
<rect x="76.60" y="800.09" width="10.60" height="10.60" fill="#000"/>
<path d="M78.15,801.39h7.50M78.15,809.39h7.50" stroke="#000" stroke-width="1.0" fill="none" opacity="0.45"/>
<rect x="81.70" y="790.49" width="10.60" height="10.60" fill="#000"/>
<path d="M83.25,791.79h7.50M83.25,799.79h7.50" stroke="#000" stroke-width="1.0" fill="none" opacity="0.45"/>
<rect x="87.00" y="780.48" width="10.60" height="10.60" fill="#000"/>
<path d="M88.55,781.78h7.50M88.55,789.78h7.50" stroke="#000" stroke-width="1.0" fill="none" opacity="0.45"/>
<rect x="96.20" y="761.83" width="10.60" height="10.60" fill="#000"/>
<path d="M97.75,763.13h7.50M97.75,771.13h7.50" stroke="#000" stroke-width="1.0" fill="none" opacity="0.45"/>
<rect x="112.20" y="734.09" width="10.60" height="10.60" fill="#000"/>
<path d="M113.75,735.39h7.50M113.75,743.39h7.50" stroke="#000" stroke-width="1.0" fill="none" opacity="0.45"/>
<rect x="158.50" y="654.30" width="10.60" height="10.60" fill="#000"/>
<path d="M160.05,655.60h7.50M160.05,663.60h7.50" stroke="#000" stroke-width="1.0" fill="none" opacity="0.45"/>
<rect x="178.70" y="626.20" width="10.60" height="10.60" fill="#000"/>
<path d="M180.25,627.50h7.50M180.25,635.50h7.50" stroke="#000" stroke-width="1.0" fill="none" opacity="0.45"/>
<rect x="224.60" y="580.80" width="10.60" height="10.60" fill="#000"/>
<path d="M229.90,578.60V580.80M226.15,578.60h7.50M229.90,591.40V593.60M226.15,593.60h7.50" stroke="#000" stroke-width="1.0" fill="none"/>
<rect x="253.80" y="554.30" width="10.60" height="10.60" fill="#000"/>
<path d="M259.10,551.60V554.30M255.35,551.60h7.50M259.10,564.90V567.60M255.35,567.60h7.50" stroke="#000" stroke-width="1.0" fill="none"/>
<rect x="295.60" y="524.30" width="10.60" height="10.60" fill="#000"/>
<path d="M300.90,519.60V524.30M297.15,519.60h7.50M300.90,534.90V539.60M297.15,539.60h7.50" stroke="#000" stroke-width="1.0" fill="none"/>
<rect x="354.40" y="510.80" width="10.60" height="10.60" fill="#000"/>
<path d="M359.70,506.10V510.80M355.95,506.10h7.50M359.70,521.40V526.10M355.95,526.10h7.50" stroke="#000" stroke-width="1.0" fill="none"/>
<rect x="447.60" y="553.50" width="10.60" height="10.60" fill="#000"/>
<path d="M452.90,550.80V553.50M449.15,550.80h7.50M452.90,564.10V566.80M449.15,566.80h7.50" stroke="#000" stroke-width="1.0" fill="none"/>
<rect x="513.80" y="641.50" width="10.60" height="10.60" fill="#000"/>
<path d="M515.35,643.80h7.50M515.35,649.80h7.50" stroke="#000" stroke-width="1.0" fill="none" opacity="0.45"/>
<path d="M76.80,816.09 L76.97,815.78 L77.13,815.47 L77.30,815.17 L77.47,814.86 L77.63,814.55 L77.80,814.25 L77.96,813.94 L78.13,813.63 L78.30,813.33 L78.47,813.02 L78.63,812.71 L78.80,812.41 L78.98,812.07 L79.16,811.74 L79.35,811.41 L79.53,811.08 L79.71,810.74 L79.90,810.41 L80.08,810.08 L80.26,809.75 L80.45,809.42 L80.63,809.08 L80.82,808.75 L81.00,808.42 L81.20,808.07 L81.40,807.71 L81.60,807.36 L81.80,807.00 L81.99,806.65 L82.19,806.29 L82.39,805.94 L82.59,805.59 L82.80,805.23 L83.00,804.88 L83.20,804.52 L83.40,804.17 L83.62,803.79 L83.83,803.41 L84.05,803.04 L84.27,802.66 L84.48,802.28 L84.70,801.90 L84.92,801.53 L85.14,801.15 L85.35,800.77 L85.57,800.39 L85.78,800.01 L86.00,799.63 L86.39,798.95 L86.77,798.27 L87.15,797.58 L87.54,796.90 L87.92,796.21 L88.30,795.53 L88.68,794.84 L89.06,794.16 L89.45,793.47 L89.83,792.79 L90.21,792.10 L90.60,791.42 L91.26,790.27 L91.92,789.12 L92.59,787.97 L93.26,786.82 L93.93,785.68 L94.61,784.53 L95.29,783.39 L95.97,782.25 L96.65,781.11 L97.34,779.97 L98.02,778.83 L98.70,777.69 L99.92,775.64 L101.15,773.58 L102.37,771.52 L103.58,769.46 L104.80,767.40 L106.02,765.34 L107.24,763.28 L108.46,761.23 L109.69,759.17 L110.92,757.12 L112.16,755.07 L113.40,753.02 L116.42,748.12 L119.49,743.24 L122.60,738.39 L125.76,733.57 L128.98,728.79 L132.25,724.04 L135.58,719.34 L138.98,714.69 L142.43,710.08 L145.95,705.53 L149.54,701.04 L153.20,696.60 L154.50,695.06 L155.80,693.53 L157.12,692.01 L158.44,690.49 L159.76,688.98 L161.10,687.47 L162.44,685.97 L163.78,684.47 L165.13,682.98 L166.48,681.48 L167.84,679.99 L169.20,678.50 L172.40,675.01 L175.63,671.53 L178.88,668.08 L182.18,664.67 L185.52,661.32 L188.92,658.02 L192.40,654.81 L195.95,651.68 L199.58,648.65 L203.31,645.74 L207.15,642.95 L211.10,640.30 L212.78,639.24 L214.47,638.22 L216.19,637.22 L217.92,636.27 L219.68,635.35 L221.46,634.49 L223.25,633.67 L225.07,632.91 L226.90,632.21 L228.75,631.57 L230.62,631.00 L232.50,630.50 L234.61,630.03 L236.74,629.65 L238.89,629.35 L241.05,629.13 L243.22,628.98 L245.40,628.89 L247.60,628.86 L249.79,628.89 L251.99,628.96 L254.20,629.07 L256.40,629.22 L258.60,629.40 L261.91,629.72 L265.21,630.09 L268.50,630.53 L271.77,631.03 L275.03,631.59 L278.27,632.21 L281.48,632.91 L284.68,633.68 L287.85,634.52 L290.99,635.43 L294.11,636.43 L297.20,637.50 L302.82,639.69 L308.34,642.14 L313.75,644.83 L319.07,647.75 L324.29,650.88 L329.41,654.20 L334.44,657.69 L339.37,661.33 L344.22,665.11 L348.97,669.01 L353.63,673.01 L358.20,677.10 L362.51,681.09 L366.74,685.13 L370.91,689.22 L375.01,693.36 L379.07,697.54 L383.07,701.75 L387.04,706.00 L390.97,710.27 L394.88,714.56 L398.76,718.86 L402.63,723.18 L406.50,727.50" fill="none" stroke="#0000ff" stroke-width="2.1" stroke-linejoin="round"/>
<path d="M76.80,809.69 L84.10,822.49 L69.50,822.49 Z" fill="#0000ff"/>
<path d="M72.80,812.09h8.00M72.80,820.09h8.00" stroke="#0000ff" stroke-width="1.0" fill="none" opacity="0.45"/>
<path d="M78.80,806.01 L86.10,818.81 L71.50,818.81 Z" fill="#0000ff"/>
<path d="M74.80,808.41h8.00M74.80,816.41h8.00" stroke="#0000ff" stroke-width="1.0" fill="none" opacity="0.45"/>
<path d="M81.00,802.02 L88.30,814.82 L73.70,814.82 Z" fill="#0000ff"/>
<path d="M77.00,804.42h8.00M77.00,812.42h8.00" stroke="#0000ff" stroke-width="1.0" fill="none" opacity="0.45"/>
<path d="M83.40,797.77 L90.70,810.57 L76.10,810.57 Z" fill="#0000ff"/>
<path d="M79.40,800.17h8.00M79.40,808.17h8.00" stroke="#0000ff" stroke-width="1.0" fill="none" opacity="0.45"/>
<path d="M86.00,793.23 L93.30,806.03 L78.70,806.03 Z" fill="#0000ff"/>
<path d="M82.00,795.63h8.00M82.00,803.63h8.00" stroke="#0000ff" stroke-width="1.0" fill="none" opacity="0.45"/>
<path d="M90.60,785.02 L97.90,797.82 L83.30,797.82 Z" fill="#0000ff"/>
<path d="M86.60,787.42h8.00M86.60,795.42h8.00" stroke="#0000ff" stroke-width="1.0" fill="none" opacity="0.45"/>
<path d="M98.70,771.29 L106.00,784.09 L91.40,784.09 Z" fill="#0000ff"/>
<path d="M94.70,773.69h8.00M94.70,781.69h8.00" stroke="#0000ff" stroke-width="1.0" fill="none" opacity="0.45"/>
<path d="M113.40,746.62 L120.70,759.42 L106.10,759.42 Z" fill="#0000ff"/>
<path d="M109.40,749.02h8.00M109.40,757.02h8.00" stroke="#0000ff" stroke-width="1.0" fill="none" opacity="0.45"/>
<path d="M153.20,690.20 L160.50,703.00 L145.90,703.00 Z" fill="#0000ff"/>
<path d="M149.20,692.60h8.00M149.20,700.60h8.00" stroke="#0000ff" stroke-width="1.0" fill="none" opacity="0.45"/>
<path d="M169.20,672.10 L176.50,684.90 L161.90,684.90 Z" fill="#0000ff"/>
<path d="M165.20,674.50h8.00M165.20,682.50h8.00" stroke="#0000ff" stroke-width="1.0" fill="none" opacity="0.45"/>
<path d="M211.10,633.90 L218.40,646.70 L203.80,646.70 Z" fill="#0000ff"/>
<path d="M211.10,633.80V633.90M207.10,633.80h8.00M211.10,646.70V646.80M207.10,646.80h8.00" stroke="#0000ff" stroke-width="1.0" fill="none"/>
<path d="M232.50,624.10 L239.80,636.90 L225.20,636.90 Z" fill="#0000ff"/>
<path d="M232.50,624.00V624.10M228.50,624.00h8.00M232.50,636.90V637.00M228.50,637.00h8.00" stroke="#0000ff" stroke-width="1.0" fill="none"/>
<path d="M258.60,623.00 L265.90,635.80 L251.30,635.80 Z" fill="#0000ff"/>
<path d="M258.60,622.90V623.00M254.60,622.90h8.00M258.60,635.80V635.90M254.60,635.90h8.00" stroke="#0000ff" stroke-width="1.0" fill="none"/>
<path d="M297.20,631.10 L304.50,643.90 L289.90,643.90 Z" fill="#0000ff"/>
<path d="M297.20,631.00V631.10M293.20,631.00h8.00M297.20,643.90V644.00M293.20,644.00h8.00" stroke="#0000ff" stroke-width="1.0" fill="none"/>
<path d="M358.20,670.70 L365.50,683.50 L350.90,683.50 Z" fill="#0000ff"/>
<path d="M354.20,674.10h8.00M354.20,680.10h8.00" stroke="#0000ff" stroke-width="1.0" fill="none" opacity="0.45"/>
<path d="M406.50,721.10 L413.80,733.90 L399.20,733.90 Z" fill="#0000ff"/>
<path d="M402.50,724.50h8.00M402.50,730.50h8.00" stroke="#0000ff" stroke-width="1.0" fill="none" opacity="0.45"/>
<path d="M75.90,820.65 L75.98,820.54 L76.07,820.42 L76.15,820.31 L76.23,820.19 L76.32,820.07 L76.40,819.96 L76.48,819.84 L76.57,819.73 L76.65,819.61 L76.73,819.50 L76.82,819.38 L76.90,819.27 L76.97,819.17 L77.05,819.06 L77.12,818.96 L77.20,818.86 L77.27,818.76 L77.35,818.66 L77.42,818.56 L77.50,818.45 L77.57,818.35 L77.65,818.25 L77.72,818.15 L77.80,818.05 L77.87,817.97 L77.93,817.88 L78.00,817.80 L78.06,817.71 L78.13,817.63 L78.20,817.54 L78.27,817.46 L78.33,817.37 L78.40,817.29 L78.47,817.20 L78.53,817.12 L78.60,817.03 L78.71,816.89 L78.82,816.75 L78.93,816.61 L79.04,816.47 L79.14,816.33 L79.25,816.19 L79.36,816.05 L79.47,815.91 L79.58,815.77 L79.68,815.63 L79.79,815.49 L79.90,815.35 L80.04,815.16 L80.19,814.98 L80.33,814.79 L80.48,814.60 L80.62,814.42 L80.76,814.23 L80.90,814.04 L81.04,813.85 L81.19,813.66 L81.32,813.47 L81.46,813.28 L81.60,813.09 L82.02,812.48 L82.43,811.86 L82.83,811.24 L83.23,810.61 L83.62,809.98 L84.02,809.35 L84.42,808.72 L84.82,808.10 L85.24,807.50 L85.68,806.90 L86.13,806.32 L86.60,805.76 L86.95,805.37 L87.31,804.99 L87.68,804.62 L88.05,804.26 L88.44,803.90 L88.83,803.55 L89.22,803.20 L89.61,802.85 L90.01,802.51 L90.41,802.16 L90.81,801.82 L91.20,801.47 L92.00,800.74 L92.79,800.00 L93.57,799.24 L94.34,798.49 L95.11,797.73 L95.87,796.96 L96.64,796.20 L97.41,795.45 L98.19,794.70 L98.98,793.96 L99.78,793.23 L100.60,792.52 L102.00,791.38 L103.44,790.29 L104.93,789.25 L106.47,788.27 L108.04,787.36 L109.65,786.51 L111.29,785.73 L112.97,785.02 L114.67,784.39 L116.39,783.83 L118.14,783.36 L119.90,782.97 L120.45,782.87 L120.99,782.78 L121.54,782.69 L122.09,782.62 L122.64,782.55 L123.19,782.50 L123.74,782.45 L124.29,782.42 L124.85,782.40 L125.40,782.39 L125.95,782.39 L126.50,782.40 L127.65,782.47 L128.81,782.58 L129.95,782.75 L131.10,782.97 L132.23,783.22 L133.36,783.52 L134.48,783.86 L135.59,784.24 L136.69,784.65 L137.77,785.09 L138.84,785.56 L139.90,786.06 L140.40,786.30 L140.91,786.56 L141.40,786.82 L141.90,787.08 L142.38,787.35 L142.87,787.63 L143.35,787.91 L143.83,788.20 L144.30,788.49 L144.77,788.79 L145.24,789.10 L145.70,789.41 L146.31,789.84 L146.92,790.27 L147.52,790.72 L148.11,791.17 L148.70,791.63 L149.29,792.09 L149.87,792.56 L150.46,793.03 L151.04,793.49 L151.63,793.96 L152.21,794.42 L152.80,794.88 L153.55,795.46 L154.31,796.03 L155.07,796.59 L155.84,797.14 L156.61,797.69 L157.39,798.23 L158.18,798.77 L158.97,799.29 L159.77,799.82 L160.57,800.34 L161.38,800.85 L162.20,801.37 L163.59,802.22 L164.99,803.07 L166.39,803.93 L167.78,804.80 L169.15,805.69 L170.49,806.61 L171.80,807.56 L173.06,808.55 L174.25,809.59 L175.38,810.69 L176.44,811.85 L177.40,813.07 L177.90,813.80 L178.37,814.54 L178.82,815.30 L179.24,816.09 L179.64,816.88 L180.03,817.70 L180.39,818.52 L180.75,819.35 L181.10,820.20 L181.44,821.04 L181.77,821.90 L182.10,822.75" fill="none" stroke="#ff0000" stroke-width="1.9" stroke-linejoin="round"/>
<circle cx="75.90" cy="820.65" r="6.0" fill="#ff0000"/>
<circle cx="76.90" cy="819.27" r="6.0" fill="#ff0000"/>
<circle cx="77.80" cy="818.05" r="6.0" fill="#ff0000"/>
<circle cx="78.60" cy="817.03" r="6.0" fill="#ff0000"/>
<circle cx="79.90" cy="815.35" r="6.0" fill="#ff0000"/>
<circle cx="81.60" cy="813.09" r="6.0" fill="#ff0000"/>
<circle cx="86.60" cy="805.76" r="6.0" fill="#ff0000"/>
<circle cx="91.20" cy="801.47" r="6.0" fill="#ff0000"/>
<circle cx="100.60" cy="792.52" r="6.0" fill="#ff0000"/>
<circle cx="119.90" cy="782.97" r="6.0" fill="#ff0000"/>
<circle cx="126.50" cy="782.40" r="6.0" fill="#ff0000"/>
<circle cx="139.90" cy="786.06" r="6.0" fill="#ff0000"/>
<circle cx="145.70" cy="789.41" r="6.0" fill="#ff0000"/>
<circle cx="152.80" cy="794.88" r="6.0" fill="#ff0000"/>
<circle cx="162.20" cy="801.37" r="6.0" fill="#ff0000"/>
<circle cx="177.40" cy="813.07" r="6.0" fill="#ff0000"/>
<circle cx="182.10" cy="822.75" r="6.0" fill="#ff0000"/>
<path d="M66.3,462.3 H530.6 V835.9 H66.3 Z" fill="none" stroke="#000" stroke-width="2.1"/>
<line x1="66.30" y1="835.90" x2="73.30" y2="835.90" stroke="#000" stroke-width="2"/>
<text class="A" x="57.80" y="841.90" font-size="19.5" text-anchor="end" fill="#000">0.0</text>
<line x1="66.30" y1="761.18" x2="73.30" y2="761.18" stroke="#000" stroke-width="2"/>
<text class="A" x="57.80" y="767.18" font-size="19.5" text-anchor="end" fill="#000">0.2</text>
<line x1="66.30" y1="686.46" x2="73.30" y2="686.46" stroke="#000" stroke-width="2"/>
<text class="A" x="57.80" y="692.46" font-size="19.5" text-anchor="end" fill="#000">0.4</text>
<line x1="66.30" y1="611.74" x2="73.30" y2="611.74" stroke="#000" stroke-width="2"/>
<text class="A" x="57.80" y="617.74" font-size="19.5" text-anchor="end" fill="#000">0.6</text>
<line x1="66.30" y1="537.02" x2="73.30" y2="537.02" stroke="#000" stroke-width="2"/>
<text class="A" x="57.80" y="543.02" font-size="19.5" text-anchor="end" fill="#000">0.8</text>
<line x1="66.30" y1="462.30" x2="73.30" y2="462.30" stroke="#000" stroke-width="2"/>
<text class="A" x="57.80" y="468.30" font-size="19.5" text-anchor="end" fill="#000">1.0</text>
<line x1="530.60" y1="835.90" x2="523.60" y2="835.90" stroke="#000" stroke-width="2"/>
<text class="A" x="539.10" y="841.20" font-size="19.5" text-anchor="start" fill="#000">0.0</text>
<line x1="530.60" y1="782.53" x2="523.60" y2="782.53" stroke="#000" stroke-width="2"/>
<text class="A" x="539.10" y="787.83" font-size="19.5" text-anchor="start" fill="#000">0.5</text>
<line x1="530.60" y1="729.16" x2="523.60" y2="729.16" stroke="#000" stroke-width="2"/>
<text class="A" x="539.10" y="734.46" font-size="19.5" text-anchor="start" fill="#000">1.0</text>
<line x1="530.60" y1="675.79" x2="523.60" y2="675.79" stroke="#000" stroke-width="2"/>
<text class="A" x="539.10" y="681.09" font-size="19.5" text-anchor="start" fill="#000">1.5</text>
<line x1="530.60" y1="622.41" x2="523.60" y2="622.41" stroke="#000" stroke-width="2"/>
<text class="A" x="539.10" y="627.71" font-size="19.5" text-anchor="start" fill="#000">2.0</text>
<line x1="530.60" y1="569.04" x2="523.60" y2="569.04" stroke="#000" stroke-width="2"/>
<text class="A" x="539.10" y="574.34" font-size="19.5" text-anchor="start" fill="#000">2.5</text>
<line x1="530.60" y1="515.67" x2="523.60" y2="515.67" stroke="#000" stroke-width="2"/>
<text class="A" x="539.10" y="520.97" font-size="19.5" text-anchor="start" fill="#000">3.0</text>
<line x1="530.60" y1="462.30" x2="523.60" y2="462.30" stroke="#000" stroke-width="2"/>
<text class="A" x="539.10" y="467.60" font-size="19.5" text-anchor="start" fill="#000">3.5</text>
<line x1="66.50" y1="835.90" x2="66.50" y2="828.90" stroke="#000" stroke-width="2"/>
<line x1="108.70" y1="835.90" x2="108.70" y2="831.90" stroke="#000" stroke-width="2"/>
<line x1="150.90" y1="835.90" x2="150.90" y2="828.90" stroke="#000" stroke-width="2"/>
<line x1="193.10" y1="835.90" x2="193.10" y2="831.90" stroke="#000" stroke-width="2"/>
<line x1="235.30" y1="835.90" x2="235.30" y2="828.90" stroke="#000" stroke-width="2"/>
<line x1="277.50" y1="835.90" x2="277.50" y2="831.90" stroke="#000" stroke-width="2"/>
<line x1="319.70" y1="835.90" x2="319.70" y2="828.90" stroke="#000" stroke-width="2"/>
<line x1="361.90" y1="835.90" x2="361.90" y2="831.90" stroke="#000" stroke-width="2"/>
<line x1="404.10" y1="835.90" x2="404.10" y2="828.90" stroke="#000" stroke-width="2"/>
<line x1="446.30" y1="835.90" x2="446.30" y2="831.90" stroke="#000" stroke-width="2"/>
<line x1="488.50" y1="835.90" x2="488.50" y2="828.90" stroke="#000" stroke-width="2"/>
<line x1="530.70" y1="835.90" x2="530.70" y2="831.90" stroke="#000" stroke-width="2"/>
<text class="S" x="66.50" y="859.80" font-size="19" text-anchor="middle" fill="#000">0</text>
<text class="S" x="150.90" y="859.80" font-size="19" text-anchor="middle" fill="#000">2</text>
<text class="S" x="235.30" y="859.80" font-size="19" text-anchor="middle" fill="#000">4</text>
<text class="S" x="319.70" y="859.80" font-size="19" text-anchor="middle" fill="#000">6</text>
<text class="S" x="404.10" y="859.80" font-size="19" text-anchor="middle" fill="#000">8</text>
<text class="S" x="488.50" y="859.80" font-size="19" text-anchor="middle" fill="#000">10</text>
<text class="S" x="298.50" y="884.60" font-size="23" text-anchor="middle" fill="#000">Current density (A/m<tspan dy="-9" font-size="14">3</tspan><tspan dy="9">)</tspan></text>
<text class="S" x="24.30" y="649.20" font-size="21" text-anchor="middle" fill="#000" transform="rotate(-90 24.30 649.20)" textLength="110" lengthAdjust="spacingAndGlyphs">Voltage (V)</text>
<text class="S" x="589.50" y="648.30" font-size="23" text-anchor="middle" fill="#000" transform="rotate(-90 589.50 648.30)">Power density (W/m<tspan dy="-9" font-size="14">3</tspan><tspan dy="9">)</tspan></text>
<text class="A" x="5.80" y="475.30" font-size="29.5" text-anchor="start" fill="#000">B</text>
<text class="S" x="72.20" y="482.10" font-size="18" text-anchor="start" fill="#000">Voltage :</text>
<text class="S" x="72.20" y="503.50" font-size="17.4" text-anchor="start" fill="#000">Power :</text>
<line x1="141.00" y1="476.00" x2="181.30" y2="476.00" stroke="#000" stroke-width="2"/>
<rect x="156.30" y="471.10" width="9.80" height="9.80" fill="#fff" stroke="#000" stroke-width="1.4"/>
<line x1="138.90" y1="496.90" x2="179.10" y2="496.90" stroke="#000" stroke-width="2"/>
<rect x="153.00" y="491.40" width="11.00" height="11.00" fill="#000"/>
<text class="S" x="185.00" y="482.10" font-size="18" text-anchor="start" fill="#000">Plant</text>
<text class="S" x="183.70" y="503.50" font-size="18" text-anchor="start" fill="#000">Plant</text>
<line x1="225.20" y1="476.00" x2="265.40" y2="476.00" stroke="#0000ff" stroke-width="2"/>
<path d="M245.30,470.25 L251.80,481.75 L238.80,481.75 Z" fill="#fff" stroke="#0000ff" stroke-width="1.4"/>
<line x1="223.00" y1="496.90" x2="263.30" y2="496.90" stroke="#0000ff" stroke-width="2"/>
<path d="M243.20,490.50 L250.45,503.30 L235.95,503.30 Z" fill="#0000ff"/>
<text class="S" x="269.70" y="482.10" font-size="17.6" text-anchor="start" fill="#000">Non-plant</text>
<text class="S" x="267.80" y="503.50" font-size="17.6" text-anchor="start" fill="#000">Non-plant</text>
<line x1="345.00" y1="476.00" x2="385.30" y2="476.00" stroke="#ff0000" stroke-width="2"/>
<circle cx="365.2" cy="476" r="5.4" fill="#fff" stroke="#ff0000" stroke-width="1.4"/>
<line x1="342.40" y1="496.90" x2="382.60" y2="496.90" stroke="#ff0000" stroke-width="2"/>
<circle cx="363.5" cy="496.9" r="6.1" fill="#ff0000"/>
<text class="S" x="388.30" y="482.10" font-size="17.7" text-anchor="start" fill="#000">Plant(No substrate)</text>
<text class="S" x="386.60" y="503.50" font-size="17.7" text-anchor="start" fill="#000">Plant(No substrate)</text>
</svg>
</body></html>
